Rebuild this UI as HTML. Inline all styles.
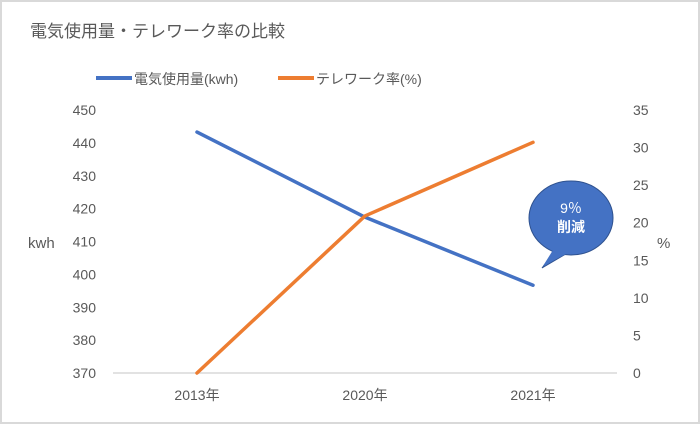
<!DOCTYPE html>
<html><head><meta charset="utf-8"><style>
body{margin:0;background:#fff}
svg{display:block;font-family:"Liberation Sans","Noto Sans CJK JP",sans-serif}
</style></head><body>
<svg width="700" height="424" viewBox="0 0 700 424">
<rect x="1" y="1" width="698" height="422" fill="#fff" stroke="#d9d9d9" stroke-width="2"/>
<text x="30" y="37" font-size="17" fill="#595959">電気使用量・テレワーク率の比較</text>
<g>
<line x1="96" y1="78" x2="132" y2="78" stroke="#4472c4" stroke-width="4"/>
<text x="134" y="84" font-size="14" fill="#595959">電気使用量(kwh)</text>
<line x1="278" y1="78" x2="314" y2="78" stroke="#ed7d31" stroke-width="4"/>
<text x="316" y="84" font-size="14" fill="#595959">テレワーク率(%)</text>
</g>
<g id="axes"></g>
<g id="series"></g>
<text x="28" y="248" font-size="15" fill="#595959">kwh</text>
<text x="657" y="248" font-size="15" fill="#595959">%</text>
<g>
<path d="M554,252 L542,268 L564,255 Z" fill="#4472c4" stroke="#2f528f" stroke-width="1"/>
<ellipse cx="571" cy="218" rx="42" ry="37" fill="#4472c4" stroke="#2f528f" stroke-width="1"/>
<path d="M553,250 L543,266 L566,254 Z" fill="#4472c4"/>
<text x="571" y="213" font-size="14" fill="#fff" text-anchor="middle">9％</text>
<text x="571" y="232" font-size="14" font-weight="bold" fill="#fff" text-anchor="middle">削減</text>
</g>
</svg>
<script>
const categories=["2013年","2020年","2021年"];
const electricity=[443.3,417.4,396.7];
const telework=[0,20.9,30.7];
const leftTicks=[370,380,390,400,410,420,430,440,450];
const rightTicks=[0,5,10,15,20,25,30,35];
const NS="http://www.w3.org/2000/svg";
const X0=113,X1=617,YT=110,YB=373;
function x(i){return X0+(X1-X0)/categories.length*(i+0.5);}
function yL(v){return YB-(v-370)/(450-370)*(YB-YT);}
function yR(v){return YB-v/35*(YB-YT);}
function mk(tag,attrs,parent){const e=document.createElementNS(NS,tag);for(const k in attrs)e.setAttribute(k,attrs[k]);parent.appendChild(e);return e;}
const axes=document.getElementById('axes'),series=document.getElementById('series');
const base=mk('line',{x1:X0,x2:X1,y1:YB,y2:YB,stroke:'#d9d9d9','stroke-width':1.5},axes);


leftTicks.forEach(v=>{const t=mk('text',{x:96,y:yL(v)+5,'font-size':14,fill:'#595959','text-anchor':'end'},axes);t.textContent=v;

});
rightTicks.forEach(v=>{const t=mk('text',{x:633,y:yR(v)+5,'font-size':14,fill:'#595959'},axes);t.textContent=v;

});
categories.forEach((c,i)=>{const t=mk('text',{x:x(i),y:400,'font-size':14,fill:'#595959','text-anchor':'middle'},axes);t.textContent=c;

});
const lb=mk('polyline',{points:electricity.map((v,i)=>x(i)+','+yL(v)).join(' '),fill:'none',stroke:'#4472c4','stroke-width':3.5,'stroke-linecap':'round','stroke-linejoin':'round'},series);


const lo=mk('polyline',{points:telework.map((v,i)=>x(i)+','+yR(v)).join(' '),fill:'none',stroke:'#ed7d31','stroke-width':3.5,'stroke-linecap':'round','stroke-linejoin':'round'},series);


</script>
</body></html>
